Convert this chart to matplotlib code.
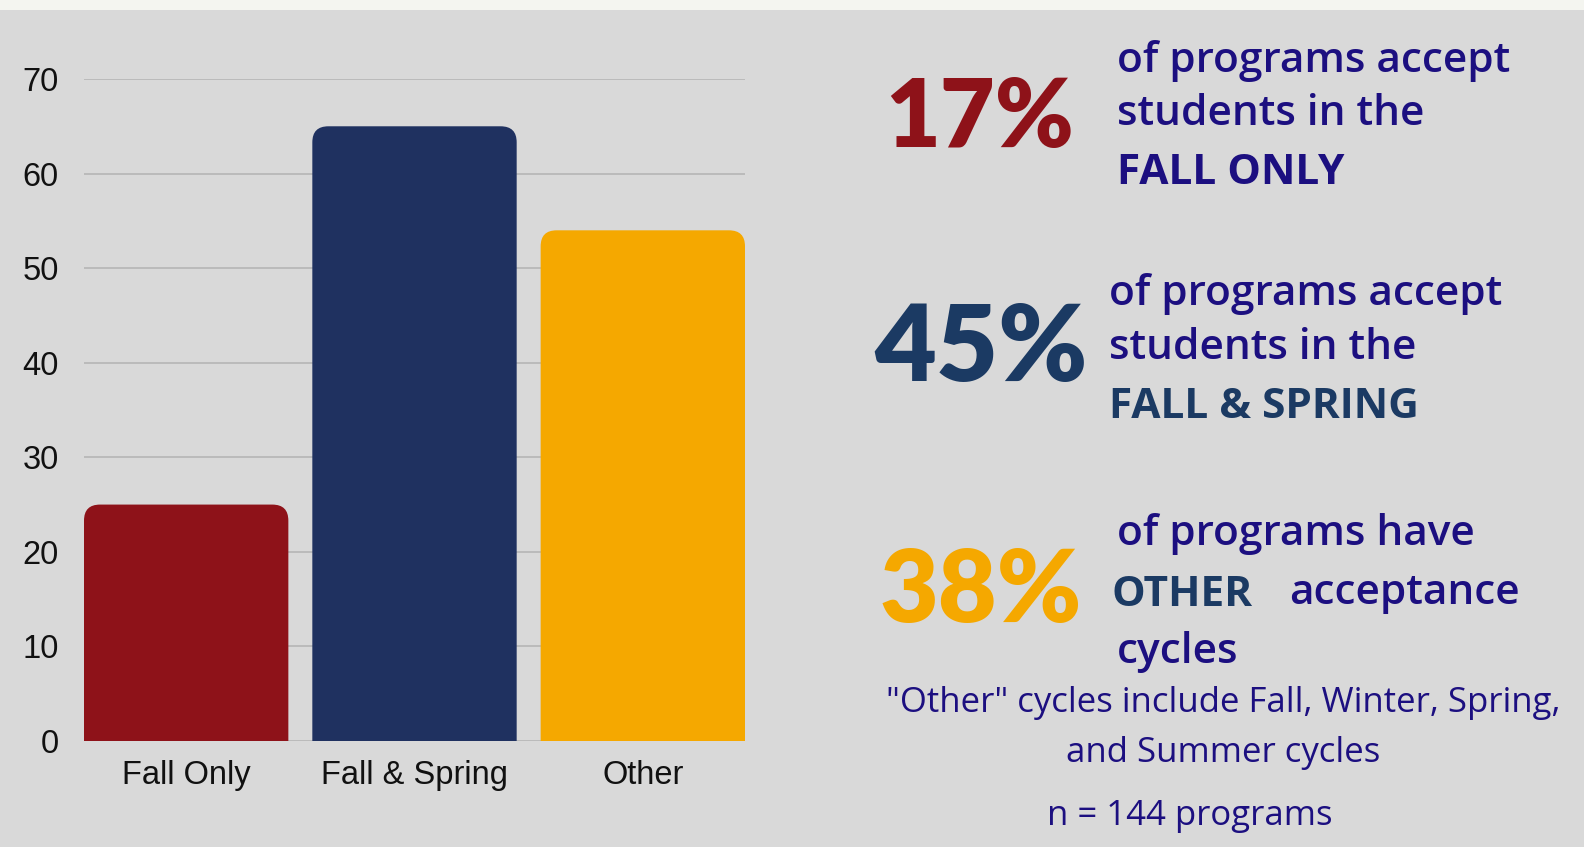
import numpy as np
import matplotlib
matplotlib.use("Agg")
from matplotlib import pyplot as plt
from matplotlib.patches import FancyBboxPatch, Rectangle

# data
categories = ["Fall Only", "Fall & Spring", "Other"]
counts = [25, 65, 54]
bar_colors = ["#8e1219", "#1f3160", "#f5a800"]
yticks = [0, 10, 20, 30, 40, 50, 60, 70]

pct_labels = ["17%", "45%", "38%"]
pct_colors = ["#8e1219", "#1b3a63", "#f5a800"]

W, H = 1584, 847
BG = "#d9d9d9"
PURPLE = "#1c0f80"
NAVY = "#1b3a63"

fig = plt.figure(figsize=(W / 100, H / 100), dpi=100)
fig.patch.set_facecolor(BG)
# light strip at the top
fig.patches.append(Rectangle((0, 1 - 10 / H), 1, 10 / H, transform=fig.transFigure,
                             facecolor="#f4f5f0", edgecolor="none"))

ax_l, ax_r, ax_top, ax_bot = 84, 745, 79, 741
ax = fig.add_axes([ax_l / W, 1 - ax_bot / H, (ax_r - ax_l) / W, (ax_bot - ax_top) / H])
ax.set_facecolor(BG)

x = np.arange(len(categories))
width = 0.895
bars = ax.bar(x, counts, width=width, color=bar_colors)
ax.set_xlim(-width / 2, len(categories) - 1 + width / 2)
ax.set_ylim(0, 70)

# rounded tops: replace the plain bars with rounded boxes
px_x = (ax_r - ax_l) / (ax.get_xlim()[1] - ax.get_xlim()[0])
px_y = (ax_bot - ax_top) / 70.0
aspect = px_x / px_y
r = 16 / px_x
for b in bars:
    b.set_visible(False)
    fb = FancyBboxPatch((b.get_x(), -10), b.get_width(), b.get_height() + 10,
                        boxstyle="round,pad=0,rounding_size=%f" % r,
                        mutation_aspect=aspect, facecolor=b.get_facecolor(),
                        edgecolor="none", zorder=3)
    ax.add_patch(fb)

ax.set_yticks(yticks)
ax.set_xticks(x)
ax.set_xticklabels(categories)
ax.grid(axis="y", color="#b3b3b3", linewidth=1.1, zorder=0)
ax.set_axisbelow(True)
for s in ax.spines.values():
    s.set_visible(False)
ax.tick_params(axis="both", length=0, labelsize=23.5, colors="#111111",
               labelfontfamily="Liberation Sans")
ax.tick_params(axis="y", pad=18)
ax.tick_params(axis="x", pad=14)


def fx(px):
    return px / W


def fy(py):
    return 1 - py / H


PCT_FONT = "Lato"
FONT = "Open Sans"
# big percentages
pct_pos = [(980, 119, 68), (981, 350, 77), (981, 593, 73)]
for lab, col, (px, py, fs) in zip(pct_labels, pct_colors, pct_pos):
    fig.text(fx(px), fy(py), lab, color=col, fontsize=fs, fontweight="heavy",
             family=PCT_FONT, ha="center", va="center")

body = 30.5
# block 1
fig.text(fx(1117), fy(61), "of programs accept", color=PURPLE, fontsize=body,
         family=FONT, fontweight="semibold", va="center")
fig.text(fx(1117), fy(114), "students in the", color=PURPLE, fontsize=body,
         family=FONT, fontweight="semibold", va="center")
fig.text(fx(1117), fy(174), "FALL ONLY", color=PURPLE, fontsize=body,
         family=FONT, fontweight="bold", va="center")
# block 2
fig.text(fx(1109), fy(294), "of programs accept", color=PURPLE, fontsize=body,
         family=FONT, fontweight="semibold", va="center")
fig.text(fx(1109), fy(348), "students in the", color=PURPLE, fontsize=body,
         family=FONT, fontweight="semibold", va="center")
fig.text(fx(1109), fy(408), "FALL & SPRING", color=NAVY, fontsize=body,
         family=FONT, fontweight="bold", va="center")
# block 3
fig.text(fx(1117), fy(534), "of programs have", color=PURPLE, fontsize=body,
         family=FONT, fontweight="semibold", va="center")
fig.text(fx(1111), fy(595), "OTHER", color=NAVY, fontsize=body,
         family=FONT, fontweight="bold", va="center")
fig.text(fx(1289), fy(593), "acceptance", color=PURPLE, fontsize=body,
         family=FONT, fontweight="semibold", va="center")
fig.text(fx(1117), fy(652), "cycles", color=PURPLE, fontsize=body,
         family=FONT, fontweight="semibold", va="center")

# footnotes
note = 25
fig.text(fx(1223), fy(703), "\"Other\" cycles include Fall, Winter, Spring,",
         color=PURPLE, fontsize=note, family=FONT, fontweight="normal",
         ha="center", va="center")
fig.text(fx(1223), fy(753), "and Summer cycles", color=PURPLE, fontsize=note,
         family=FONT, fontweight="normal", ha="center", va="center")
fig.text(fx(1190), fy(816), "n = 144 programs", color=PURPLE, fontsize=note,
         family=FONT, fontweight="normal", ha="center", va="center")

fig.savefig("out.png", dpi=100, facecolor=fig.get_facecolor())
